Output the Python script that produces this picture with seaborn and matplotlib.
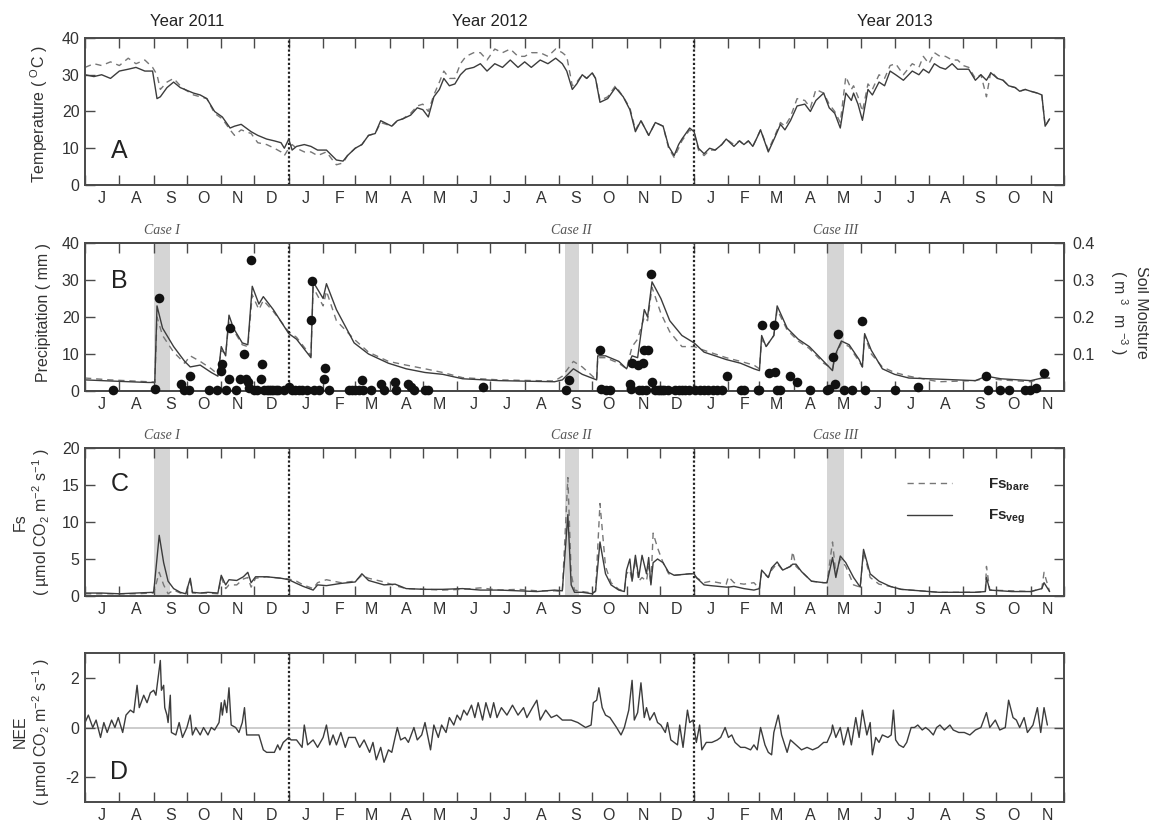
import pandas as pd
import matplotlib
matplotlib.use("Agg")
import matplotlib.pyplot as plt
import matplotlib.dates as mdates
import matplotlib.transforms as mtransforms
from matplotlib.lines import Line2D
from matplotlib.ticker import FuncFormatter, NullFormatter
import seaborn as sns

sns.set_theme(style="ticks")
plt.rcParams["font.family"] = ["Liberation Sans", "DejaVu Sans"]
plt.rcParams["mathtext.fontset"] = "custom"
plt.rcParams["mathtext.rm"] = "Liberation Sans"
plt.rcParams["mathtext.it"] = "Liberation Sans:italic"
plt.rcParams["mathtext.bf"] = "Liberation Sans:bold"
plt.rcParams["axes.unicode_minus"] = False

# ---------------- Panel A: air / soil temperature (deg C) ----------------
temp_dates = [
    "2011-07-01", "2011-07-09", "2011-07-16", "2011-07-24", "2011-08-01", "2011-08-09", "2011-08-16", "2011-08-24", "2011-08-31",
    "2011-09-04", "2011-09-07", "2011-09-13", "2011-09-19", "2011-09-25", "2011-09-29",
    "2011-10-07", "2011-10-13", "2011-10-19", "2011-10-26",
    "2011-11-02", "2011-11-09", "2011-11-13", "2011-11-19", "2011-11-28",
    "2011-12-04", "2011-12-12", "2011-12-19", "2011-12-25", "2011-12-28",
    "2012-01-01", "2012-01-04", "2012-01-08", "2012-01-15", "2012-01-21", "2012-01-27",
    "2012-02-04", "2012-02-09", "2012-02-13", "2012-02-19", "2012-02-23",
    "2012-03-01", "2012-03-07", "2012-03-13", "2012-03-19", "2012-03-24",
    "2012-04-03", "2012-04-08", "2012-04-13", "2012-04-20", "2012-04-26",
    "2012-05-01", "2012-05-06", "2012-05-11", "2012-05-16", "2012-05-20", "2012-05-25", "2012-05-30",
    "2012-06-04", "2012-06-09", "2012-06-16", "2012-06-22", "2012-06-28",
    "2012-07-05", "2012-07-12", "2012-07-19", "2012-07-26",
    "2012-08-01", "2012-08-07", "2012-08-15", "2012-08-22", "2012-08-29",
    "2012-09-04", "2012-09-08", "2012-09-13", "2012-09-17", "2012-09-22", "2012-09-26",
    "2012-10-01", "2012-10-04", "2012-10-08", "2012-10-15", "2012-10-22", "2012-10-29",
    "2012-11-04", "2012-11-09", "2012-11-14", "2012-11-21", "2012-11-27",
    "2012-12-04", "2012-12-09", "2012-12-14", "2012-12-18", "2012-12-21", "2012-12-28",
    "2013-01-01", "2013-01-05", "2013-01-10", "2013-01-15", "2013-01-20", "2013-01-26", "2013-01-30",
    "2013-02-06", "2013-02-11", "2013-02-15", "2013-02-19", "2013-02-23", "2013-02-27",
    "2013-03-02", "2013-03-09", "2013-03-15", "2013-03-20", "2013-03-24", "2013-03-29",
    "2013-04-04", "2013-04-11", "2013-04-16", "2013-04-21", "2013-04-28",
    "2013-05-03", "2013-05-08", "2013-05-13", "2013-05-18", "2013-05-23", "2013-05-25", "2013-05-29",
    "2013-06-02", "2013-06-07", "2013-06-11", "2013-06-17", "2013-06-22", "2013-06-27",
    "2013-07-02", "2013-07-09", "2013-07-17", "2013-07-23", "2013-07-27",
    "2013-08-01", "2013-08-06", "2013-08-11", "2013-08-16", "2013-08-22", "2013-08-27",
    "2013-09-01", "2013-09-06", "2013-09-12", "2013-09-17", "2013-09-22", "2013-09-26",
    "2013-10-02", "2013-10-07", "2013-10-12", "2013-10-18", "2013-10-22", "2013-10-27",
    "2013-11-01", "2013-11-07", "2013-11-11", "2013-11-14", "2013-11-18",
]
temp_veg = [
    30, 29.5, 30, 29, 31, 31.5, 32, 31, 31,
    23.5, 24, 26.5, 28, 26.5, 26,
    25, 24.5, 23.5, 20,
    18.5, 15.5, 16, 16.5, 14.5,
    13.5, 12.5, 12, 11.5, 10,
    12.5, 9.5, 10.5, 11, 10.5, 9.5,
    9.5, 8, 6.8, 6.5, 8,
    10, 11, 13.5, 14, 17.5,
    16, 17.5, 18, 19, 21,
    20.5, 18.5, 24, 26, 29, 27, 27.5,
    30, 31.5, 32, 33, 31,
    33, 32, 34, 32,
    33.5, 32, 34, 33, 34.5,
    33, 31, 26, 27.5, 30, 29,
    30.5, 29, 22.5, 23.5, 26.5, 24,
    20.5, 14.5, 17.5, 13.5, 17,
    16, 10.5, 8, 11, 12.5, 15.5,
    14.5, 10, 8.5, 10, 9.5, 11, 12.5,
    10.5, 12, 11, 12, 10.5, 13,
    15, 9, 13, 16.5, 15, 17.5,
    21.5, 22, 20, 23, 25,
    21, 19.5, 15.5, 25, 23, 25, 22,
    17.6, 26, 24.5, 28, 27, 31,
    30, 28.5, 31, 30, 31.5,
    30.5, 33, 32, 31.5, 33, 31.5,
    31.5, 31.5, 28.5, 30, 28.5, 30.5,
    29, 28.5, 27, 26.5, 25.5, 26,
    25.5, 25, 24.5, 16, 18,
]
temp_bare = [
    32, 33, 32.5, 33.5, 32.5, 34.5, 33, 34, 32,
    30, 26, 28, 29, 27, 26,
    24.5, 24, 23.5, 19.5,
    18, 15, 13.5, 15, 14,
    11.5, 11, 10, 9, 8,
    10, 11, 10, 9, 9, 8,
    9, 7, 5.5, 6, 8,
    10, 11, 13.5, 14, 17,
    16, 17.5, 18, 19.5, 21.5,
    22, 20, 24.5, 28, 31, 29, 29,
    33, 35, 36, 36, 34,
    37, 36, 37, 35,
    35, 36, 36, 35, 37,
    36, 35, 27, 28, 30, 29,
    30.5, 29, 23, 24, 27, 24,
    21, 15, 17.5, 13.5, 17,
    16, 10, 7.5, 10, 12, 15,
    14, 9.5, 8, 9.5, 9.5, 11, 12.5,
    11, 12, 11, 12, 10.5, 13,
    15, 9.5, 13.5, 17, 16, 18.5,
    23.5, 23, 21, 26, 25,
    22, 20, 17, 29.5, 26, 27, 24,
    20, 27.5, 26, 30, 29, 32.5,
    33, 30, 33, 32, 35,
    33, 36, 35, 35, 34, 34,
    32.5, 32, 29, 30, 24, 31,
    29, 28.5, 27, 26.5, 25.5, 26,
    25.5, 25, 24.5, 16, 18,
]

# ---------------- Panel B: soil moisture (m3 m-3) and rainfall (mm) ----------------
sm_dates = [
    "2011-07-01", "2011-07-24", "2011-08-27", "2011-09-02", "2011-09-04", "2011-09-09", "2011-09-19", "2011-09-29",
    "2011-10-04", "2011-10-13", "2011-10-23", "2011-10-29", "2011-11-01", "2011-11-05", "2011-11-08", "2011-11-12",
    "2011-11-20", "2011-11-25", "2011-11-29", "2011-12-05", "2011-12-09", "2011-12-18",
    "2012-01-01", "2012-01-08", "2012-01-21", "2012-01-23", "2012-02-01", "2012-02-04", "2012-02-13", "2012-02-29",
    "2012-03-13", "2012-03-31", "2012-04-16", "2012-05-03", "2012-05-19", "2012-06-06", "2012-07-09", "2012-08-28",
    "2012-09-04", "2012-09-14", "2012-09-22", "2012-10-05", "2012-10-06", "2012-10-13", "2012-10-25", "2012-11-01",
    "2012-11-06", "2012-11-11", "2012-11-17", "2012-11-20", "2012-11-24", "2012-12-02", "2012-12-10", "2012-12-21",
    "2013-01-01", "2013-01-10", "2013-01-30", "2013-02-12", "2013-02-24", "2013-03-01", "2013-03-03", "2013-03-07",
    "2013-03-14", "2013-03-17", "2013-03-26", "2013-04-05", "2013-04-15", "2013-04-28", "2013-05-06", "2013-05-08",
    "2013-05-14", "2013-05-21", "2013-05-30", "2013-06-02", "2013-06-04", "2013-06-10", "2013-06-20", "2013-07-01",
    "2013-07-14", "2013-08-10", "2013-09-12", "2013-09-22", "2013-10-05", "2013-11-01", "2013-11-11", "2013-11-18",
]
sm_veg = [
    0.030, 0.027, 0.023, 0.023, 0.230, 0.170, 0.120, 0.080,
    0.065, 0.070, 0.050, 0.040, 0.120, 0.095, 0.205, 0.170,
    0.130, 0.125, 0.283, 0.235, 0.255, 0.220,
    0.155, 0.140, 0.090, 0.295, 0.250, 0.290, 0.220, 0.130,
    0.100, 0.075, 0.060, 0.050, 0.045, 0.033, 0.028, 0.025,
    0.030, 0.060, 0.045, 0.030, 0.095, 0.095, 0.080, 0.060,
    0.095, 0.090, 0.220, 0.200, 0.295, 0.250, 0.190, 0.150,
    0.130, 0.105, 0.085, 0.075, 0.060, 0.055, 0.150, 0.120,
    0.150, 0.230, 0.170, 0.140, 0.120, 0.080, 0.055, 0.095,
    0.135, 0.125, 0.085, 0.065, 0.155, 0.110, 0.060, 0.045,
    0.035, 0.032, 0.028, 0.040, 0.033, 0.028, 0.035, 0.035,
]
sm_bare = [
    0.035, 0.030, 0.025, 0.024, 0.200, 0.150, 0.105, 0.075,
    0.095, 0.080, 0.060, 0.045, 0.110, 0.100, 0.190, 0.165,
    0.125, 0.120, 0.260, 0.220, 0.245, 0.215,
    0.160, 0.145, 0.095, 0.280, 0.230, 0.270, 0.190, 0.140,
    0.105, 0.080, 0.070, 0.060, 0.050, 0.036, 0.030, 0.027,
    0.040, 0.080, 0.065, 0.030, 0.090, 0.090, 0.075, 0.060,
    0.120, 0.140, 0.200, 0.190, 0.280, 0.210, 0.160, 0.120,
    0.120, 0.110, 0.090, 0.080, 0.070, 0.060, 0.140, 0.120,
    0.150, 0.220, 0.165, 0.135, 0.115, 0.075, 0.060, 0.090,
    0.130, 0.120, 0.080, 0.065, 0.150, 0.100, 0.065, 0.050,
    0.040, 0.025, 0.028, 0.035, 0.030, 0.025, 0.035, 0.040,
]
rain_dates = [
    "2011-07-26", "2011-09-02", "2011-09-06", "2011-09-26", "2011-09-28",
    "2011-10-03", "2011-10-04", "2011-10-21", "2011-10-28",
    "2011-11-01", "2011-11-02", "2011-11-05", "2011-11-08", "2011-11-09", "2011-11-14", "2011-11-18",
    "2011-11-22", "2011-11-23", "2011-11-25", "2011-11-26", "2011-11-28",
    "2011-12-01", "2011-12-03", "2011-12-07", "2011-12-08", "2011-12-10", "2011-12-12", "2011-12-14",
    "2011-12-16", "2011-12-18", "2011-12-20", "2011-12-22", "2011-12-28",
    "2012-01-01", "2012-01-04", "2012-01-07", "2012-01-10", "2012-01-13", "2012-01-17", "2012-01-21",
    "2012-01-22", "2012-01-24", "2012-01-28",
    "2012-02-02", "2012-02-03", "2012-02-06", "2012-02-24", "2012-02-27",
    "2012-03-01", "2012-03-04", "2012-03-07", "2012-03-08", "2012-03-15", "2012-03-24", "2012-03-27",
    "2012-04-06", "2012-04-07", "2012-04-18", "2012-04-20", "2012-04-23",
    "2012-05-03", "2012-05-06", "2012-06-24", "2012-09-07", "2012-09-10",
    "2012-10-08", "2012-10-09", "2012-10-13", "2012-10-17",
    "2012-11-04", "2012-11-05", "2012-11-06", "2012-11-11", "2012-11-12", "2012-11-15", "2012-11-16",
    "2012-11-17", "2012-11-19", "2012-11-20", "2012-11-23", "2012-11-24", "2012-11-27", "2012-11-29",
    "2012-12-01", "2012-12-03", "2012-12-05", "2012-12-08", "2012-12-15", "2012-12-18", "2012-12-21",
    "2012-12-24", "2012-12-27",
    "2013-01-02", "2013-01-06", "2013-01-10", "2013-01-14", "2013-01-18", "2013-01-22", "2013-01-26",
    "2013-01-31", "2013-02-12", "2013-02-15", "2013-02-28",
    "2013-03-01", "2013-03-03", "2013-03-10", "2013-03-14", "2013-03-15", "2013-03-17", "2013-03-20",
    "2013-03-29", "2013-04-04", "2013-04-16",
    "2013-05-01", "2013-05-03", "2013-05-06", "2013-05-08", "2013-05-11", "2013-05-16", "2013-05-24",
    "2013-06-02", "2013-06-04", "2013-07-01", "2013-07-22",
    "2013-09-22", "2013-09-23", "2013-10-04", "2013-10-12", "2013-10-27", "2013-10-31",
    "2013-11-06", "2013-11-13",
]
rain_mm = [
    0.3, 0.5, 25.0, 1.8, 0.4,
    0.3, 4.0, 0.3, 0.3,
    5.5, 7.3, 0.3, 3.3, 17.0, 0.3, 3.3,
    10.0, 3.3, 2.5, 0.8, 35.3,
    0.3, 0.3, 3.3, 7.3, 0.3, 0.3, 0.3,
    0.3, 0.3, 0.3, 0.3, 0.3,
    1.0, 0.3, 0.3, 0.3, 0.3, 0.3, 19.3,
    29.8, 0.3, 0.3,
    3.3, 6.3, 0.3, 0.3, 0.3,
    0.3, 0.3, 3.0, 0.3, 0.3, 2.0, 0.3,
    2.5, 0.3, 2.0, 1.0, 0.3,
    0.3, 0.3, 1.0, 0.3, 3.0,
    11.0, 0.5, 0.3, 0.3,
    2.0, 0.5, 7.5, 7.0, 0.3, 0.3, 7.5,
    11.0, 0.3, 11.0, 31.5, 2.3, 0.3, 0.3,
    0.3, 0.3, 0.3, 0.3, 0.3, 0.3, 0.3,
    0.3, 0.3,
    0.3, 0.3, 0.3, 0.3, 0.3, 0.3, 0.3,
    4.0, 0.3, 0.3, 0.3,
    0.3, 17.9, 4.8, 17.9, 5.2, 0.3, 0.3,
    4.0, 2.5, 0.3,
    0.3, 0.5, 9.3, 2.0, 15.4, 0.3, 0.3,
    19.0, 0.3, 0.3, 1.0,
    4.0, 0.3, 0.3, 0.3, 0.3, 0.3,
    0.8, 4.8,
]

# ---------------- Panel C: soil CO2 efflux (umol CO2 m-2 s-1) ----------------
fs_dates = [
    "2011-07-01", "2011-07-16", "2011-08-01", "2011-08-16", "2011-09-01", "2011-09-06", "2011-09-10", "2011-09-14",
    "2011-09-19", "2011-09-25", "2011-09-30", "2011-10-04", "2011-10-06", "2011-10-13", "2011-10-20", "2011-10-29",
    "2011-11-01", "2011-11-05", "2011-11-08", "2011-11-15", "2011-11-21", "2011-11-25", "2011-11-28", "2011-12-02",
    "2011-12-12", "2011-12-25",
    "2012-01-01", "2012-01-08", "2012-01-14", "2012-01-23", "2012-01-27",
    "2012-02-04", "2012-02-17",
    "2012-03-01", "2012-03-07", "2012-03-13", "2012-03-27",
    "2012-04-06", "2012-04-16", "2012-05-03", "2012-05-19", "2012-06-06", "2012-06-22",
    "2012-07-09", "2012-07-26", "2012-08-12", "2012-08-28",
    "2012-09-04", "2012-09-09", "2012-09-12", "2012-09-15", "2012-09-22",
    "2012-10-01", "2012-10-04", "2012-10-08", "2012-10-13", "2012-10-18", "2012-10-25", "2012-10-30",
    "2012-11-01", "2012-11-04", "2012-11-06", "2012-11-09", "2012-11-12", "2012-11-15", "2012-11-19",
    "2012-11-21", "2012-11-23", "2012-11-25", "2012-11-29",
    "2012-12-04", "2012-12-09", "2012-12-14", "2012-12-21", "2012-12-28",
    "2013-01-01", "2013-01-03", "2013-01-10", "2013-01-16", "2013-01-30",
    "2013-02-01", "2013-02-06", "2013-02-15", "2013-02-24",
    "2013-03-01", "2013-03-03", "2013-03-09", "2013-03-12", "2013-03-17", "2013-03-22", "2013-03-29", "2013-03-31",
    "2013-04-03", "2013-04-08", "2013-04-17", "2013-04-28",
    "2013-05-01", "2013-05-06", "2013-05-09", "2013-05-13", "2013-05-18", "2013-05-25", "2013-05-31",
    "2013-06-03", "2013-06-09", "2013-06-17", "2013-06-27",
    "2013-07-07", "2013-07-24", "2013-08-10", "2013-08-27",
    "2013-09-12", "2013-09-21", "2013-09-22", "2013-09-25",
    "2013-10-15", "2013-11-01", "2013-11-11", "2013-11-13", "2013-11-18",
]
fs_veg = [
    0.4, 0.4, 0.3, 0.4, 0.5, 8.2, 4.5, 2.0,
    1.0, 0.5, 0.3, 2.4, 0.5, 0.4, 0.5, 0.4,
    2.8, 1.5, 2.2, 2.1, 2.6, 3.2, 1.8, 2.6,
    2.6, 2.4,
    2.2, 1.7, 1.3, 0.8, 1.5,
    1.4, 1.7,
    1.9, 3.0, 2.1, 1.5,
    1.6, 1.0, 0.9, 0.9, 1.0, 0.8,
    0.8, 0.7, 0.6, 0.8,
    0.7, 11.0, 1.5, 0.5, 0.5,
    0.3, 0.7, 7.3, 3.0, 1.5, 0.8, 0.6,
    3.5, 5.0, 2.0, 5.5, 2.5, 5.5, 3.0,
    5.2, 1.5, 4.5, 5.0,
    4.5, 3.2, 2.8, 2.9, 3.0,
    3.0, 2.5, 1.5, 1.4, 1.2,
    1.2, 1.3, 1.0, 0.8,
    1.0, 3.5, 2.5, 3.8, 4.6, 3.5, 4.0, 4.3,
    4.3, 3.3, 2.0, 1.8,
    1.8, 5.2, 2.5, 5.4, 4.5, 2.5, 1.2,
    6.3, 3.0, 2.0, 1.3,
    0.9, 0.7, 0.5, 0.5,
    0.5, 0.6, 2.5, 0.8,
    0.6, 0.6, 1.0, 1.8, 0.6,
]
fs_bare = [
    0.3, 0.3, 0.3, 0.3, 0.4, 3.2, 1.5, 0.3,
    0.8, 0.4, 0.3, 2.0, 0.4, 0.4, 0.4, 0.3,
    2.5, 1.0, 1.5, 1.5, 2.3, 2.5, 1.2, 2.4,
    2.6, 2.4,
    2.3, 2.0, 1.5, 1.0, 1.8,
    2.2, 1.8,
    2.0, 2.8, 2.4, 1.9,
    1.4, 1.0, 0.9, 0.8, 0.9, 1.1,
    0.8, 0.9, 0.7, 0.7,
    0.6, 16.0, 3.0, 0.8, 0.6,
    0.4, 0.6, 12.5, 4.0, 1.8, 0.9, 0.7,
    3.0, 3.5, 2.0, 5.0, 2.0, 2.5, 2.0,
    4.0, 1.5, 8.5, 6.5,
    4.5, 3.0, 2.8, 2.9, 3.0,
    3.0, 2.5, 1.8, 2.0, 1.6,
    2.6, 1.8, 1.6, 1.8,
    1.0, 3.3, 2.5, 3.5, 4.4, 3.5, 4.0, 6.0,
    4.0, 3.3, 2.0, 1.8,
    1.8, 7.3, 3.0, 5.0, 4.0, 1.5, 1.2,
    6.0, 2.5, 1.6, 1.3,
    0.9, 0.7, 0.5, 0.5,
    0.5, 0.6, 4.0, 0.8,
    0.7, 0.6, 1.0, 3.2, 0.6,
]

# ---------------- Panel D: net ecosystem exchange (umol CO2 m-2 s-1) ----------------
nee_dates = [
    "2011-07-01", "2011-07-04", "2011-07-08", "2011-07-11", "2011-07-15", "2011-07-18", "2011-07-21", "2011-07-25", "2011-07-28", "2011-07-31",
    "2011-08-04", "2011-08-07", "2011-08-11", "2011-08-14", "2011-08-17", "2011-08-19", "2011-08-23", "2011-08-26", "2011-08-29",
    "2011-09-01", "2011-09-03", "2011-09-07", "2011-09-08", "2011-09-10", "2011-09-11", "2011-09-13", "2011-09-14", "2011-09-16", "2011-09-17", "2011-09-21", "2011-09-24", "2011-09-27",
    "2011-10-01", "2011-10-04", "2011-10-06", "2011-10-09", "2011-10-13", "2011-10-16", "2011-10-20", "2011-10-23", "2011-10-26", "2011-10-30",
    "2011-11-01", "2011-11-02", "2011-11-04", "2011-11-06", "2011-11-08", "2011-11-10", "2011-11-14", "2011-11-17", "2011-11-20", "2011-11-22", "2011-11-24", "2011-11-27", "2011-11-30",
    "2011-12-05", "2011-12-09", "2011-12-12", "2011-12-19", "2011-12-22", "2011-12-24", "2011-12-27",
    "2012-01-01", "2012-01-03", "2012-01-08", "2012-01-13", "2012-01-15", "2012-01-18", "2012-01-23", "2012-01-27",
    "2012-02-01", "2012-02-04", "2012-02-07", "2012-02-10", "2012-02-13", "2012-02-17", "2012-02-21", "2012-02-24",
    "2012-03-01", "2012-03-05", "2012-03-09", "2012-03-14", "2012-03-17", "2012-03-20", "2012-03-24", "2012-03-27", "2012-03-31",
    "2012-04-03", "2012-04-07", "2012-04-08", "2012-04-11", "2012-04-15", "2012-04-18", "2012-04-23", "2012-04-26", "2012-04-30",
    "2012-05-03", "2012-05-08", "2012-05-11", "2012-05-15", "2012-05-18", "2012-05-22", "2012-05-25", "2012-05-29",
    "2012-06-01", "2012-06-04", "2012-06-07", "2012-06-10", "2012-06-14", "2012-06-17", "2012-06-20", "2012-06-24", "2012-06-27",
    "2012-07-01", "2012-07-04", "2012-07-07", "2012-07-11", "2012-07-16", "2012-07-21", "2012-07-26", "2012-07-31",
    "2012-08-03", "2012-08-08", "2012-08-12", "2012-08-15", "2012-08-20", "2012-08-25", "2012-08-30",
    "2012-09-04", "2012-09-12", "2012-09-18", "2012-09-25", "2012-09-30",
    "2012-10-02", "2012-10-05", "2012-10-07", "2012-10-10", "2012-10-13", "2012-10-17", "2012-10-20", "2012-10-23", "2012-10-27", "2012-10-30",
    "2012-11-03", "2012-11-06", "2012-11-08", "2012-11-11", "2012-11-14", "2012-11-17", "2012-11-19", "2012-11-22", "2012-11-26", "2012-11-29",
    "2012-12-02", "2012-12-06", "2012-12-08", "2012-12-11", "2012-12-14", "2012-12-17", "2012-12-19", "2012-12-22", "2012-12-26", "2012-12-28", "2012-12-31",
    "2013-01-03", "2013-01-06", "2013-01-08", "2013-01-12", "2013-01-17", "2013-01-22", "2013-01-25", "2013-01-29",
    "2013-02-01", "2013-02-04", "2013-02-07", "2013-02-12", "2013-02-16", "2013-02-21", "2013-02-24", "2013-02-27",
    "2013-03-02", "2013-03-06", "2013-03-09", "2013-03-12", "2013-03-14", "2013-03-18", "2013-03-21", "2013-03-26", "2013-03-29",
    "2013-04-03", "2013-04-08", "2013-04-13", "2013-04-18", "2013-04-23", "2013-04-28",
    "2013-05-01", "2013-05-05", "2013-05-06", "2013-05-09", "2013-05-13", "2013-05-16", "2013-05-20", "2013-05-23", "2013-05-27", "2013-05-30",
    "2013-06-02", "2013-06-06", "2013-06-09", "2013-06-11", "2013-06-14", "2013-06-17", "2013-06-20", "2013-06-25", "2013-06-28", "2013-06-30",
    "2013-07-02", "2013-07-05", "2013-07-09", "2013-07-12", "2013-07-16", "2013-07-19", "2013-07-22", "2013-07-26", "2013-07-29",
    "2013-08-01", "2013-08-05", "2013-08-08", "2013-08-11", "2013-08-15", "2013-08-20", "2013-08-23", "2013-08-28",
    "2013-09-02", "2013-09-07", "2013-09-12", "2013-09-17", "2013-09-22", "2013-09-25", "2013-09-30",
    "2013-10-04", "2013-10-09", "2013-10-12", "2013-10-16", "2013-10-19", "2013-10-22", "2013-10-26", "2013-10-29",
    "2013-11-03", "2013-11-07", "2013-11-10", "2013-11-13", "2013-11-16",
]
nee_flux = [
    0.2, 0.5, 0.0, 0.3, -0.4, 0.2, -0.2, 0.3, 0.0, 0.4,
    -0.2, 0.5, 0.7, 0.6, 1.7, 0.8, 1.3, 1.0, 1.4,
    1.5, 1.3, 2.7, 1.5, 1.7, 0.8, 0.5, 0.2, 1.3, -0.2, -0.3, 0.2, -0.4,
    0.0, 0.5, -0.3, 0.0, -0.3, 0.0, -0.3, 0.0, -0.1, 0.2,
    1.0, 0.5, 1.1, 0.6, 1.6, 0.1, 0.0, -0.2, 0.2, 0.8, -0.3, -0.3, -0.3,
    -0.3, -0.9, -1.0, -1.0, -0.7, -0.9, -0.6,
    -0.4, -0.5, -0.5, -0.8, 0.1, -0.7, -0.5, -0.8,
    -0.4, 0.1, -0.7, -0.3, -0.7, -0.2, -0.8, -0.4,
    -0.4, -0.8, -0.5, -1.0, -0.6, -1.3, -0.8, -1.4, -0.9,
    -1.0, -0.2, 0.0, -0.5, -0.4, -0.6, 0.0, -0.5, -0.3,
    0.2, -0.9, 0.1, -0.4, 0.1, -0.2, 0.4, 0.1,
    0.5, 0.3, 0.7, 0.5, 0.9, 0.4, 1.0, 0.3, 1.0,
    0.4, 1.0, 0.4, 0.8, 0.5, 0.9, 0.5, 0.8,
    0.4, 0.8, 1.1, 0.3, 0.7, 0.4, 0.5,
    0.3, 0.3, 0.2, 0.0, 0.1,
    1.0, 1.1, 1.6, 0.8, 0.5, 0.4, 0.2, 0.0, -0.3, 0.0,
    0.7, 1.9, 0.3, 0.6, 1.8, 0.4, 0.8, 0.3, 0.6, 0.2,
    0.1, -0.2, 0.2, -0.5, -0.6, -0.7, 0.1, -0.8, 0.7, 0.2, 0.3,
    -0.6, 0.1, -0.9, -0.6, -0.6, -0.5, -0.4, 0.0,
    -0.4, -0.3, -0.6, -0.8, -0.8, -0.9, -0.7, -0.9,
    0.0, -0.7, -1.0, -1.1, -0.2, 0.5, -0.3, -1.0, -0.5,
    -0.7, -0.9, -0.8, -0.9, -0.8, -0.6,
    -0.6, -0.2, 0.1, -0.4, 0.0, -0.7, 0.0, -0.7, 0.4, -0.4,
    0.7, -0.3, 0.2, -1.1, -0.4, -0.6, -0.3, -0.4, -0.3, 0.7,
    -0.5, -0.7, -0.8, -0.6, 0.0, 0.0, 0.1, -0.1, 0.0,
    -0.1, -0.3, 0.0, 0.1, -0.1, 0.1, -0.1, -0.2,
    -0.2, -0.3, -0.1, 0.0, 0.6, 0.0, 0.3,
    -0.1, 0.0, 1.1, 0.4, 0.3, 0.0, 0.4, -0.2,
    0.1, 0.8, -0.2, 0.8, 0.1,
]

# ---------------- shared annotations ----------------
year_titles = ["Year 2011", "Year 2012", "Year 2013"]
year_title_dates = ["2011-10-01", "2012-07-01", "2013-07-01"]
year_breaks = ["2012-01-01", "2013-01-01"]
case_names = ["Case I", "Case II", "Case III"]
case_starts = ["2011-09-01", "2012-09-06", "2013-05-01"]
case_ends = ["2011-09-16", "2012-09-19", "2013-05-16"]

SOLID = "#3c3c3c"
DASHC = "#777777"
FRAME = "#4a4a4a"
TXT = "#333333"
DASH = (0, (4.5, 3.5))
FS = 11.5

x_start, x_end = pd.Timestamp("2011-07-01"), pd.Timestamp("2013-12-01")

fig = plt.figure(figsize=(11.49, 8.24), dpi=100)
left, width = 0.074, 0.852
axA = fig.add_axes([left, 0.7755, width, 0.1784])
axB = fig.add_axes([left, 0.5255, width, 0.1796])
axC = fig.add_axes([left, 0.2767, width, 0.1796])
axD = fig.add_axes([left, 0.0267, width, 0.1808])


def month_letter(v, pos=None):
    return mdates.num2date(v).strftime("%b")[0]


def style_axis(ax, right_ticks=True):
    ax.set_xlim(x_start, x_end)
    ax.xaxis.set_major_locator(mdates.MonthLocator())
    ax.xaxis.set_major_formatter(NullFormatter())
    ax.xaxis.set_minor_locator(mdates.MonthLocator(bymonthday=16))
    ax.xaxis.set_minor_formatter(FuncFormatter(month_letter))
    ax.tick_params(axis="x", which="major", direction="in", length=7.5, width=1,
                   top=True, bottom=True, color=FRAME)
    ax.tick_params(axis="x", which="minor", length=0, pad=4, labelsize=FS, labelcolor=TXT)
    ax.tick_params(axis="y", which="major", direction="in", length=7, width=1, left=True,
                   right=right_ticks, labelsize=FS, labelcolor=TXT, color=FRAME, pad=4)
    for s in ax.spines.values():
        s.set_color(FRAME)
        s.set_linewidth(1.4)
    for d in year_breaks:
        ax.axvline(pd.Timestamp(d), color="#222222", lw=1.6, ls=(0, (1, 1)), zorder=1)
    ax.set_xlabel("")


def left_label(ax, text, xpos, ypos):
    ax.set_ylabel(text, fontsize=FS, color=TXT, va="center", ha="center", linespacing=1.15)
    ax.yaxis.set_label_coords(xpos, ypos)


def panel_letter(ax, letter, ypos):
    ax.text(0.035, ypos, letter, transform=ax.transAxes, ha="center", va="center",
            fontsize=18, color="#222222")


def case_marks(ax, shade_ax):
    blend = mtransforms.blended_transform_factory(ax.transData, ax.transAxes)
    for name, s, e in zip(case_names, case_starts, case_ends):
        s, e = pd.Timestamp(s), pd.Timestamp(e)
        shade_ax.axvspan(s, e, color="#d5d5d5", lw=0, zorder=0)
        ax.text(s + (e - s) / 2, 1.085, name, transform=blend, ha="center", va="center",
                fontsize=10, color="#555555", family="Liberation Serif", style="italic")


# ---- Panel A
tdt = pd.to_datetime(temp_dates)
sns.lineplot(x=tdt, y=temp_bare, ax=axA, color=DASHC, lw=1.0, linestyle=DASH, errorbar=None)
sns.lineplot(x=tdt, y=temp_veg, ax=axA, color=SOLID, lw=1.0, errorbar=None)
axA.set_ylim(0, 40)
axA.set_yticks([0, 10, 20, 30, 40])
style_axis(axA)
left_label(axA, r"Temperature ( $^{\mathrm{O}}$C )", -0.047, 0.48)
panel_letter(axA, "A", 0.23)
blendA = mtransforms.blended_transform_factory(axA.transData, axA.transAxes)
for title, d in zip(year_titles, year_title_dates):
    axA.text(pd.Timestamp(d), 1.11, title, transform=blendA, ha="center", va="center",
             fontsize=12, color="#222222")

# ---- Panel B
axB2 = axB.twinx()
sdt = pd.to_datetime(sm_dates)
sns.lineplot(x=sdt, y=sm_bare, ax=axB2, color=DASHC, lw=1.0, linestyle=DASH, errorbar=None)
sns.lineplot(x=sdt, y=sm_veg, ax=axB2, color=SOLID, lw=1.0, errorbar=None)
axB2.set_ylim(0, 0.4)
axB2.set_yticks([0.1, 0.2, 0.3, 0.4])
axB2.set_yticklabels(["0.1", "0.2", "0.3", "0.4"])
axB2.tick_params(axis="y", direction="in", length=7, width=1, labelsize=FS,
                 labelcolor=TXT, color=FRAME, pad=6)
axB2.set_ylabel("Soil Moisture\n( m $^{3}$  m $^{-3}$ )", rotation=270, fontsize=FS,
                color=TXT, va="center", ha="center", linespacing=1.25)
axB2.yaxis.set_label_coords(1.066, 0.53)
for s in axB2.spines.values():
    s.set_color(FRAME)
    s.set_linewidth(1.4)

rdt = pd.to_datetime(rain_dates)
sns.scatterplot(x=rdt, y=rain_mm, ax=axB, color="#111111", s=48, linewidth=0,
                zorder=5, clip_on=False, legend=False)
axB.set_ylim(0, 40)
axB.set_yticks([0, 10, 20, 30, 40])
style_axis(axB, right_ticks=False)
axB.set_zorder(axB2.get_zorder() + 1)
axB.patch.set_visible(False)
left_label(axB, "Precipitation ( mm )", -0.042, 0.53)
case_marks(axB, axB2)
panel_letter(axB, "B", 0.74)

# ---- Panel C
fdt = pd.to_datetime(fs_dates)
sns.lineplot(x=fdt, y=fs_bare, ax=axC, color=DASHC, lw=1.0, linestyle=DASH, errorbar=None)
sns.lineplot(x=fdt, y=fs_veg, ax=axC, color=SOLID, lw=1.0, errorbar=None)
axC.set_ylim(0, 20)
axC.set_yticks([0, 5, 10, 15, 20])
style_axis(axC)
case_marks(axC, axC)
left_label(axC, "Fs\n( \u00b5mol CO$_{2}$ m$^{-2}$ s$^{-1}$ )", -0.054, 0.5)
panel_letter(axC, "C", 0.757)
handles = [Line2D([], [], color=DASHC, lw=1.0, ls=DASH), Line2D([], [], color=SOLID, lw=1.0)]
labels = [r"$\mathbf{Fs}_{\mathbf{bare}}$", r"$\mathbf{Fs}_{\mathbf{veg}}$"]
axC.legend(handles, labels, loc="upper left", bbox_to_anchor=(0.833, 0.85), frameon=False,
           handlelength=3.0, handletextpad=2.3, labelspacing=1.0, fontsize=11, borderaxespad=0)

# ---- Panel D
ndt = pd.to_datetime(nee_dates)
axD.axhline(0, color="#c4c4c4", lw=1.2, zorder=0)
sns.lineplot(x=ndt, y=nee_flux, ax=axD, color=SOLID, lw=1.0, errorbar=None)
axD.set_ylim(-3, 3)
axD.set_yticks([-2, 0, 2])
style_axis(axD)
left_label(axD, "NEE\n( \u00b5mol CO$_{2}$ m$^{-2}$ s$^{-1}$ )", -0.054, 0.47)
panel_letter(axD, "D", 0.2)

fig.savefig("out.png", dpi=100, facecolor="white")
